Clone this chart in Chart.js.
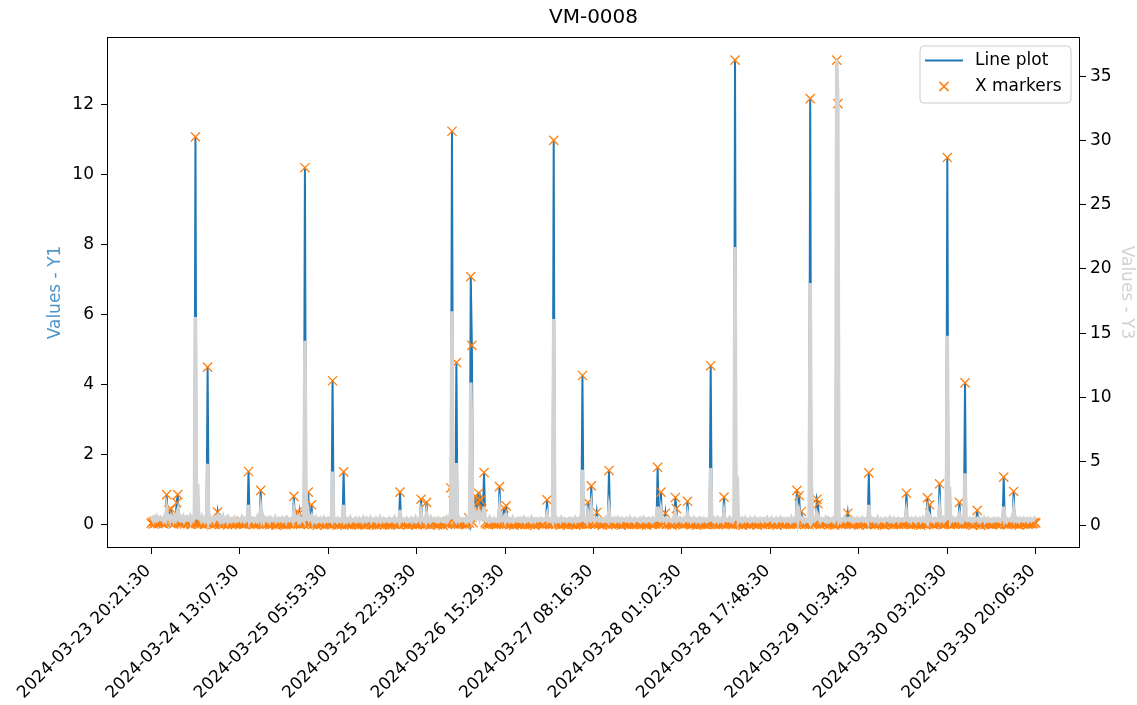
<!DOCTYPE html>
<html>
<head>
<meta charset="utf-8">
<title>VM-0008</title>
<script src="https://cdn.jsdelivr.net/npm/chart.js"></script>
<style>
	html, body { margin: 0; padding: 0; background: #fff; }
	#chart { display: block; }
</style>
</head>
<body>
<canvas id="chart" width="1137" height="705"></canvas>
<script>
// VM-0008 - line plot with x markers, Y3 on twin axis

// tick labels on the sample index axis (one every 80 samples)
var tickIndex = [0, 80, 160, 240, 320, 400, 480, 560, 640, 720, 800];
var tickLabels = ["2024-03-23 20:21:30", "2024-03-24 13:07:30", "2024-03-25 05:53:30", "2024-03-25 22:39:30",
	"2024-03-26 15:29:30", "2024-03-27 08:16:30", "2024-03-28 01:02:30", "2024-03-28 17:48:30",
	"2024-03-29 10:34:30", "2024-03-30 03:20:30", "2024-03-30 20:06:30"];

var y1Ticks = [0, 2, 4, 6, 8, 10, 12];
var y3Ticks = [0, 5, 10, 15, 20, 25, 30, 35];

// Values - Y1 (line plot and x markers), 40 samples per row
var y1Values = [
	0.04,0.08,0.02,0.1,0.05,0.12,0.03,0.07,0.11,0.06, 0.09,0.03,0.12,0.06,0.86,0.1,0.42,0.05,0.45,0.09, 0.02,0.13,0.07,0.63,0.86,0.06,0.03,0.1,0.05,0.14, 0.02,0.08,0.11,0.04,0.07,0.12,0.01,0.09,0.05,0.1,
	11.07,0.05,0.02,0.09,0.06,0.03,0.1,0.05,0.01,0.08, 0.04,4.5,0.04,0.1,0.02,0.07,0.09,0.01,0.06,0.1, 0.36,0.05,0.01,0.08,0.04,0.09,0.02,0.06,0.08,0.0, 0.07,0.03,0.06,0.0,0.04,0.08,0.02,0.06,0.03,0.05,
	0.06,0.03,0.09,0.04,0.01,0.07,0.04,0.08,1.52,0.02, 0.08,0.04,0.07,0.0,0.05,0.03,0.09,0.02,0.06,0.98, 0.03,0.09,0.01,0.07,0.04,0.02,0.06,0.0,0.07,0.04, 0.02,0.05,0.08,-0.01,0.03,0.06,0.02,0.05,0.07,0.01,
	0.03,0.06,0.0,0.08,0.04,0.02,0.05,0.07,0.02,0.81, 0.04,0.06,0.36,0.03,0.33,0.01,0.05,0.06,0.02,10.19, 0.05,0.02,0.93,0.04,0.06,0.57,0.01,0.06,0.03,0.07, -0.01,0.05,0.02,0.06,0.02,0.04,0.07,0.0,0.05,0.03,
	0.06,0.02,0.04,0.0,4.11,0.07,0.03,0.05,-0.01,0.06, 0.02,0.05,0.01,0.04,1.51,0.03,0.06,0.01,0.05,0.02, 0.07,-0.01,0.04,0.05,0.02,0.06,0.0,0.03,0.06,0.02, 0.05,0.01,0.07,0.03,-0.01,0.06,0.02,0.04,0.07,0.0,
	0.05,0.02,0.03,0.06,-0.01,0.05,0.02,0.07,0.01,0.04, 0.06,0.0,0.03,0.05,0.02,0.06,-0.01,0.03,0.05,0.02, 0.07,0.01,0.04,0.06,0.0,0.93,0.03,0.05,0.02,0.05, 0.03,0.06,-0.01,0.04,0.02,0.06,0.01,0.05,0.03,0.07,
	0.0,0.04,0.06,0.02,0.73,0.05,0.02,0.06,0.01,0.64, 0.03,0.05,-0.01,0.07,0.03,0.04,0.06,0.02,0.05,0.0, 0.06,0.02,0.05,0.03,-0.01,0.06,0.03,0.07,0.01,0.05, 0.08,1.05,11.23,0.92,0.05,0.02,4.63,0.04,0.01,0.06,
	0.03,0.02,0.06,0.05,0.0,0.07,0.03,0.2,0.05,7.08, 5.12,0.06,0.55,0.82,0.4,0.65,0.9,0.35,0.7,0.45, 0.3,1.49,0.06,0.02,0.04,0.0,0.07,0.03,0.05,0.02, 0.06,0.03,0.01,0.05,0.02,1.09,0.05,0.02,0.06,0.48,
	0.03,0.54,0.03,0.06,0.0,0.05,0.02,0.07,-0.01,0.04, 0.05,0.02,0.06,0.03,0.01,0.06,0.03,0.07,0.0,0.05, 0.02,0.06,0.04,0.01,0.07,0.03,0.05,-0.01,0.05,0.06, 0.02,0.04,0.06,0.02,0.0,0.05,0.03,0.07,0.71,0.03,
	0.05,0.02,0.06,0.01,10.97,0.04,0.01,0.06,0.03,0.05, -0.01,0.07,0.03,0.02,0.06,0.05,0.0,0.04,0.06,0.02, 0.05,0.01,0.03,0.07,-0.01,0.05,0.03,0.06,0.02,0.04, 4.26,0.05,0.02,0.06,0.01,0.64,0.04,0.02,1.11,0.05,
	0.06,0.01,0.03,0.35,0.06,0.02,0.05,0.03,-0.01,0.05, 0.02,0.07,0.04,0.0,1.55,0.06,0.02,0.05,0.03,0.06, 0.01,0.04,0.07,0.02,0.05,-0.01,0.06,0.03,0.05,0.02, 0.06,0.03,0.0,0.07,0.04,0.02,0.05,0.01,0.06,0.03,
	0.05,0.02,0.06,0.0,0.04,0.07,0.02,0.05,-0.01,0.03, 0.06,0.03,0.05,0.01,0.06,0.02,0.04,0.07,1.64,0.03, 0.02,0.93,0.05,0.03,0.06,0.33,0.01,0.05,0.06,0.02, 0.04,-0.01,0.06,0.03,0.78,0.46,0.02,0.05,0.07,0.03,
	0.05,0.0,0.06,0.02,0.04,0.67,0.03,0.06,0.01,0.05, 0.02,0.07,0.04,-0.01,0.05,0.03,0.06,0.01,0.05,0.02, 0.06,0.03,0.0,0.05,0.02,0.04,4.54,0.05,0.02,0.06, 0.01,0.03,0.07,0.0,0.05,0.03,0.06,0.02,0.79,0.04,
	0.05,0.02,0.04,0.07,0.02,0.05,0.0,0.06,13.26,0.03, 0.06,0.01,0.05,0.02,0.06,-0.01,0.04,0.07,0.02,0.05, 0.03,0.0,0.06,0.03,0.05,0.02,0.07,0.04,-0.01,0.05, 0.02,0.06,0.03,0.01,0.06,0.05,0.02,0.07,0.03,0.04,
	0.05,0.07,0.01,0.04,0.02,0.06,-0.01,0.05,0.03,0.07, 0.02,0.05,0.06,0.0,0.04,0.06,0.02,0.05,0.01,0.07, 0.03,0.05,0.02,0.06,0.98,0.04,0.83,0.06,0.38,0.03, 0.06,0.01,0.05,0.02,0.05,0.0,12.16,0.04,0.02,0.06,
	0.02,0.05,0.73,0.6,0.05,0.0,0.06,0.03,0.05,0.02, 0.07,0.03,0.06,0.01,0.04,0.05,0.02,0.06,-0.01,0.05, 13.26,12.02,0.03,0.06,0.01,0.05,0.03,0.07,0.02,0.05, 0.33,0.04,0.05,0.02,0.06,0.0,0.05,0.03,0.06,0.02,
	-0.01,0.05,0.03,0.07,0.02,0.05,0.03,0.06,0.01,1.48, 0.04,0.02,0.06,0.04,0.0,0.05,0.03,0.07,0.01,0.05, 0.06,0.02,0.04,-0.01,0.06,0.03,0.05,0.02,0.07,0.03, 0.05,0.0,0.06,0.02,0.04,0.06,0.01,0.05,0.03,0.02,
	0.05,0.02,0.03,0.9,0.07,0.03,0.05,0.0,0.06,0.03, 0.02,0.06,0.01,0.05,0.03,0.06,-0.01,0.04,0.07,0.02, 0.05,0.01,0.77,0.04,0.57,0.06,0.03,0.05,0.0,0.06, 0.03,0.02,0.05,1.17,0.02,0.05,0.07,0.01,0.04,0.06,
	10.48,0.03,0.06,0.0,0.05,0.07,0.02,0.04,0.06,0.02, 0.05,0.64,0.03,0.06,0.01,0.05,4.05,0.05,0.02,0.04, 0.06,0.02,0.05,-0.01,0.06,0.03,0.07,0.41,0.02,0.06, -0.01,0.05,0.03,0.07,0.01,0.05,0.03,0.06,0.02,0.04,
	0.01,0.05,0.03,0.06,0.04,0.02,0.06,0.03,0.0,0.05, 0.07,1.36,0.02,0.06,0.0,0.05,0.03,0.06,0.02,0.05, 0.95,0.03,0.07,0.02,0.05,-0.01,0.06,0.04,0.03,0.06, 0.02,0.05,0.06,0.01,0.04,0.06,0.02,0.05,0.03,0.07,
	0.05
];

// Values - Y3 (right axis, light gray), 40 samples per row
var y3Values = [
	0.5,0.6,0.4,0.65,0.5,0.7,0.45,0.55,0.65,0.5, 0.55,0.4,0.7,0.5,1.25,0.6,0.7,0.45,0.75,0.6, 0.4,0.7,0.5,0.9,1.2,0.45,0.4,0.65,0.5,0.7, 0.4,0.55,0.65,0.45,0.5,0.7,0.35,0.6,0.45,0.65,
	16.25,0.5,3.3,0.65,0.55,0.4,0.7,0.5,0.35,0.6, 0.45,4.84,0.4,0.7,0.4,0.55,0.65,0.35,0.5,0.7, 0.8,0.5,0.35,0.65,0.45,0.7,0.4,0.55,0.65,0.35, 0.6,0.4,0.5,0.35,0.45,0.6,0.4,0.55,0.4,0.5,
	0.5,0.4,0.65,0.45,0.35,0.55,0.45,0.6,1.64,0.4, 0.6,0.45,0.55,0.35,0.5,0.4,0.65,0.4,0.55,1.25, 0.45,0.7,0.35,0.6,0.5,0.4,0.55,0.35,0.6,0.45, 0.4,0.5,0.65,0.35,0.45,0.55,0.4,0.5,0.6,0.35,
	0.4,0.55,0.35,0.6,0.45,0.4,0.5,0.6,0.4,1.1, 0.45,0.55,0.7,0.4,0.65,0.35,0.5,0.55,0.4,14.4, 3.07,0.4,1.0,0.45,0.55,0.75,0.35,0.55,0.4,0.6, 0.35,0.5,0.4,0.55,0.35,0.45,0.6,0.35,0.5,0.4,
	0.55,0.4,0.45,0.35,4.24,0.6,0.4,0.5,0.35,0.55, 0.4,0.5,0.35,0.45,1.64,0.4,0.55,0.35,0.5,0.4, 0.6,0.35,0.45,0.5,0.4,0.55,0.35,0.4,0.55,0.4, 0.5,0.35,0.6,0.4,0.35,0.55,0.4,0.45,0.6,0.35,
	0.5,0.4,0.4,0.55,0.35,0.5,0.4,0.6,0.35,0.45, 0.55,0.35,0.4,0.5,0.4,0.55,0.35,0.4,0.5,0.4, 0.6,0.35,0.45,0.55,0.35,1.25,0.4,0.5,0.4,0.5, 0.4,0.55,0.35,0.45,0.4,0.55,0.35,0.5,0.4,0.6,
	0.35,0.45,0.55,0.4,1.0,0.5,0.4,0.55,0.35,0.9, 0.4,0.5,0.35,0.6,0.4,0.45,0.55,0.4,0.5,0.35, 0.55,0.4,0.5,0.4,0.35,0.55,0.4,0.6,0.35,0.5, 0.6,1.2,16.7,0.8,0.5,0.4,4.9,0.45,0.35,0.55,
	0.4,0.4,0.55,0.5,0.35,0.6,0.4,0.65,0.5,11.15, 6.0,0.55,0.7,1.0,0.6,0.85,1.1,0.6,0.9,0.7, 0.55,1.5,0.55,0.4,0.45,0.35,0.6,0.4,0.5,0.4, 0.55,0.4,0.35,0.5,0.4,1.3,0.5,0.4,0.55,0.7,
	0.4,0.75,0.45,0.55,0.35,0.5,0.4,0.6,0.35,0.45, 0.5,0.4,0.55,0.4,0.35,0.55,0.45,0.6,0.35,0.5, 0.4,0.55,0.45,0.35,0.6,0.4,0.5,0.35,0.5,0.55, 0.4,0.45,0.55,0.4,0.35,0.5,0.45,0.6,0.9,0.4,
	0.5,0.4,0.55,0.35,16.1,0.45,0.35,0.55,0.4,0.5, 0.35,0.6,0.45,0.4,0.55,0.5,0.35,0.45,0.55,0.4, 0.5,0.35,0.45,0.6,0.35,0.5,0.4,0.55,0.4,0.45, 4.375,0.5,0.4,0.55,0.35,0.9,0.45,0.4,1.3,0.5,
	0.55,0.35,0.45,0.6,0.55,0.4,0.5,0.4,0.35,0.5, 0.4,0.6,0.45,0.35,1.25,0.55,0.4,0.5,0.4,0.55, 0.35,0.45,0.6,0.4,0.5,0.35,0.55,0.45,0.5,0.4, 0.55,0.4,0.35,0.6,0.45,0.4,0.5,0.35,0.55,0.45,
	0.5,0.4,0.55,0.35,0.45,0.6,0.4,0.5,0.35,0.45, 0.55,0.4,0.5,0.35,0.55,0.4,0.45,0.6,1.5,0.45, 0.4,1.1,0.5,0.4,0.55,0.6,0.35,0.5,0.55,0.4, 0.45,0.35,0.55,0.45,1.0,0.7,0.4,0.5,0.6,0.4,
	0.5,0.35,0.55,0.4,0.45,0.9,0.45,0.55,0.35,0.5, 0.4,0.6,0.45,0.35,0.5,0.4,0.55,0.35,0.5,0.4, 0.55,0.45,0.35,0.5,0.4,0.45,4.5,0.5,0.4,0.55, 0.35,0.45,0.6,0.35,0.5,0.4,0.55,0.4,1.0,0.45,
	0.5,0.4,0.45,0.6,0.4,0.5,0.35,0.55,21.7,0.4, 3.85,0.35,0.5,0.4,0.55,0.35,0.45,0.6,0.4,0.5, 0.45,0.35,0.55,0.4,0.5,0.4,0.6,0.45,0.35,0.5, 0.4,0.55,0.45,0.35,0.55,0.5,0.4,0.6,0.4,0.45,
	0.5,0.6,0.35,0.45,0.4,0.55,0.35,0.5,0.45,0.6, 0.4,0.5,0.55,0.35,0.45,0.55,0.4,0.5,0.35,0.6, 0.4,0.5,0.4,0.55,1.25,0.45,1.0,0.55,0.6,0.4, 0.55,0.35,0.5,0.4,0.5,0.35,18.9,3.6,0.4,0.55,
	0.4,0.5,1.0,0.8,0.5,0.35,0.55,0.45,0.5,0.4, 0.6,0.4,0.55,0.35,0.45,0.5,0.4,0.55,0.35,0.5, 36.3,33.0,0.4,0.55,0.35,0.5,0.45,0.6,0.4,0.5, 0.55,0.45,0.5,0.4,0.55,0.35,0.5,0.4,0.55,0.4,
	0.35,0.5,0.45,0.6,0.4,0.5,0.4,0.55,0.35,1.64, 0.45,0.4,0.55,0.45,0.35,0.5,0.4,0.6,0.35,0.5, 0.55,0.4,0.45,0.35,0.55,0.45,0.5,0.4,0.6,0.4, 0.5,0.35,0.55,0.4,0.45,0.55,0.35,0.5,0.45,0.4,
	0.5,0.4,0.45,1.1,0.6,0.4,0.5,0.35,0.55,0.45, 0.4,0.55,0.35,0.5,0.45,0.55,0.35,0.45,0.6,0.4, 0.5,0.35,1.0,0.45,0.75,0.55,0.4,0.5,0.35,0.55, 0.45,0.4,0.5,1.3,0.4,0.5,0.6,0.35,0.45,0.55,
	14.8,0.45,3.07,0.35,0.5,0.6,0.4,0.45,0.55,0.4, 0.5,0.85,0.4,0.55,0.35,0.5,4.1,0.5,0.4,0.45, 0.55,0.4,0.5,0.35,0.55,0.45,0.6,0.6,0.4,0.55, 0.35,0.5,0.45,0.6,0.35,0.5,0.4,0.55,0.4,0.45,
	0.35,0.5,0.4,0.55,0.45,0.4,0.55,0.45,0.35,0.5, 0.6,1.5,0.4,0.55,0.35,0.5,0.45,0.55,0.4,0.5, 1.2,0.45,0.6,0.4,0.5,0.35,0.55,0.45,0.4,0.55, 0.4,0.5,0.55,0.35,0.45,0.55,0.4,0.5,0.45,0.6,
	0.5
];

var BLUE = "#1f77b4";
var ORANGE = "#ff7f0e";
var GRAY = "#d3d3d3";
var FONT = "'DejaVu Sans', sans-serif";

function toPoints(arr) {
	return arr.map(function(v, i) { return { x: i, y: v }; });
}

function fixedTicks(list) {
	return function(scale) {
		scale.ticks = list.map(function(v) { return { value: v }; });
	};
}

// matplotlib style frame, title over the axes, legend inside the axes
var framePlugin = {
	id: "frame",
	afterDatasetsDraw: function(chart) {
		var ctx = chart.ctx, a = chart.chartArea;
		ctx.save();
		ctx.strokeStyle = "#000";
		ctx.lineWidth = 1;
		ctx.strokeRect(Math.round(a.left) + 0.5, Math.round(a.top) + 0.5,
			Math.round(a.right - a.left) - 1, Math.round(a.bottom - a.top) - 1);

		// title
		ctx.fillStyle = "#000";
		ctx.font = "20px " + FONT;
		ctx.textAlign = "center";
		ctx.textBaseline = "middle";
		ctx.fillText("VM-0008", (a.left + a.right) / 2, 18);

		// legend box
		var bx = a.right - 160, by = a.top + 9, bw = 151, bh = 57, r = 4;
		ctx.beginPath();
		ctx.moveTo(bx + r, by);
		ctx.arcTo(bx + bw, by, bx + bw, by + bh, r);
		ctx.arcTo(bx + bw, by + bh, bx, by + bh, r);
		ctx.arcTo(bx, by + bh, bx, by, r);
		ctx.arcTo(bx, by, bx + bw, by, r);
		ctx.closePath();
		ctx.fillStyle = "rgba(255,255,255,0.8)";
		ctx.fill();
		ctx.strokeStyle = "#cccccc";
		ctx.lineWidth = 1;
		ctx.stroke();

		// entry 1: line
		ctx.strokeStyle = BLUE;
		ctx.lineWidth = 2;
		ctx.beginPath();
		ctx.moveTo(bx + 5, by + 14.5);
		ctx.lineTo(bx + 43, by + 14.5);
		ctx.stroke();
		// entry 2: x marker
		var mx = bx + 24, my = by + 40.5, s = 4.6;
		ctx.strokeStyle = ORANGE;
		ctx.lineWidth = 1.5;
		ctx.beginPath();
		ctx.moveTo(mx - s, my - s); ctx.lineTo(mx + s, my + s);
		ctx.moveTo(mx - s, my + s); ctx.lineTo(mx + s, my - s);
		ctx.stroke();

		ctx.fillStyle = "#000";
		ctx.font = "17px " + FONT;
		ctx.textAlign = "left";
		ctx.fillText("Line plot", bx + 55, by + 14.5);
		ctx.fillText("X markers", bx + 55, by + 40.5);
		ctx.restore();
	}
};

// draw order: gray Y3 on top (twin axis), then markers, then the blue line
var data = {
	datasets: [
		{
			label: "Values - Y3",
			data: toPoints(y3Values),
			yAxisID: "y3",
			borderColor: GRAY,
			borderWidth: 3.5,
			pointRadius: 0,
			fill: false,
			tension: 0,
			order: 0
		},
		{
			label: "X markers",
			data: toPoints(y1Values),
			yAxisID: "y1",
			showLine: false,
			pointStyle: "crossRot",
			pointRadius: 6.5,
			pointBorderWidth: 1.3,
			borderColor: ORANGE,
			backgroundColor: ORANGE,
			order: 1
		},
		{
			label: "Line plot",
			data: toPoints(y1Values),
			yAxisID: "y1",
			borderColor: BLUE,
			borderWidth: 2,
			pointRadius: 0,
			fill: false,
			tension: 0,
			order: 2
		}
	]
};

var tickFont = { family: FONT, size: 17 };

var options = {
	responsive: false,
	animation: false,
	devicePixelRatio: 1,
	layout: { padding: { left: 0, right: 0, top: 37, bottom: 0 } },
	plugins: {
		legend: { display: false },
		tooltip: { enabled: false },
		title: { display: false }
	},
	scales: {
		x: {
			type: "linear",
			min: -40,
			max: 840,
			afterBuildTicks: fixedTicks(tickIndex),
			afterFit: function(scale) { scale.height = 157; },
			grid: { drawOnChartArea: false, drawTicks: true, tickLength: 6, color: "#000" },
			border: { display: false },
			ticks: {
				autoSkip: false,
				maxRotation: 45,
				minRotation: 45,
				padding: 7,
				labelOffset: -3,
				color: "#000",
				font: tickFont,
				callback: function(value) {
					var k = tickIndex.indexOf(value);
					return k >= 0 ? tickLabels[k] : "";
				}
			}
		},
		y1: {
			type: "linear",
			position: "left",
			min: -0.663,
			max: 13.92,
			afterBuildTicks: fixedTicks(y1Ticks),
			afterFit: function(scale) { scale.width = 107; },
			grid: { drawOnChartArea: false, drawTicks: true, tickLength: 6, color: "#000" },
			border: { display: false },
			ticks: { color: "#000", padding: 7, font: tickFont },
			title: {
				display: true,
				text: "Values - Y1",
				color: "#4f95c8",
				font: tickFont,
				padding: { top: 45, bottom: 0 }
			}
		},
		y3: {
			type: "linear",
			position: "right",
			min: -1.72,
			max: 38.05,
			afterBuildTicks: fixedTicks(y3Ticks),
			afterFit: function(scale) { scale.width = 57; },
			grid: { drawOnChartArea: false, drawTicks: true, tickLength: 6, color: "#000" },
			border: { display: false },
			ticks: { color: "#000", padding: 4, font: tickFont },
			title: {
				display: true,
				text: "Values - Y3",
				color: GRAY,
				font: tickFont,
				padding: { top: 0, bottom: 0 }
			}
		}
	}
};

var chart = new Chart(document.getElementById("chart"), {
	type: "line",
	data: data,
	options: options,
	plugins: [framePlugin]
});
</script>
</body>
</html>
